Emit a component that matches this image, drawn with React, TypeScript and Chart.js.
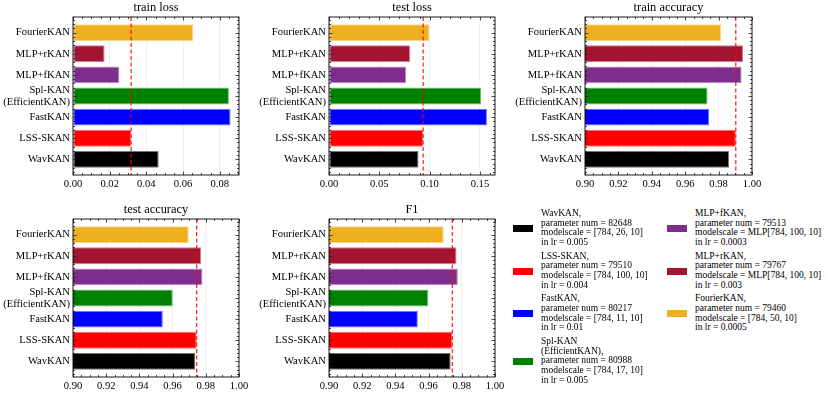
import React, { useEffect, useRef } from 'react';
import { Chart, registerables } from 'chart.js';

Chart.register(...registerables);

// Categories (bottom -> top, as in matplotlib barh)
const categories = ['WavKAN', 'LSS-SKAN', 'FastKAN', 'Spl-KAN\n(EfficientKAN)', 'MLP+fKAN', 'MLP+rKAN', 'FourierKAN'];
const colors = ['#000000', '#FF0000', '#0000FF', '#008000', '#7E2F8E', '#A2142F', '#EDB120'];

const trainLoss = [0.0467, 0.0317, 0.0859, 0.0850, 0.0253, 0.0172, 0.0656];
const testLoss = [0.0890, 0.0936, 0.1570, 0.1511, 0.0767, 0.0807, 0.0999];
const trainAcc = [0.9863, 0.9903, 0.9744, 0.9734, 0.9938, 0.9946, 0.9815];
const testAcc = [0.9737, 0.9745, 0.9541, 0.9601, 0.9780, 0.9772, 0.9697];
const f1Score = [0.9733, 0.9743, 0.9535, 0.9597, 0.9776, 0.9768, 0.9691];

const refModel = 'LSS-SKAN';

// Legend info
const legendNames = ['WavKAN,', 'LSS-SKAN,', 'FastKAN,', 'Spl-KAN\n(EfficientKAN),', 'MLP+fKAN,', 'MLP+rKAN,', 'FourierKAN,'];
const paramNums = [82648, 79510, 80217, 80988, 79513, 79767, 79460];
const modelScales = ['[784, 26, 10]', '[784, 100, 10]', '[784, 11, 10]', '[784, 17, 10]', 'MLP[784, 100, 10]', 'MLP[784, 100, 10]', '[784, 50, 10]'];
const learningRates = ['0.005', '0.004', '0.01', '0.005', '0.0003', '0.003', '0.0005'];
const legendColumns = [[0, 1, 2, 3], [4, 5, 6]];

const FONT = '"Liberation Serif", "Times New Roman", serif';

type Box = { left: number; top: number; width: number; height: number; aL: number; aT: number; aR: number; aB: number };
type PanelCfg = { title: string; values: number[]; min: number; max: number; step: number; minorDiv: number; box: Box };

const panels: PanelCfg[] = [
  { title: 'train loss', values: trainLoss, min: 0, max: 0.0905, step: 0.02, minorDiv: 4,
    box: { left: 0, top: 0, width: 255, height: 195, aL: 73, aT: 17, aR: 239, aB: 175 } },
  { title: 'test loss', values: testLoss, min: 0, max: 0.165, step: 0.05, minorDiv: 5,
    box: { left: 258, top: 0, width: 255, height: 195, aL: 329, aT: 17, aR: 495, aB: 175 } },
  { title: 'train accuracy', values: trainAcc, min: 0.9, max: 1.0, step: 0.02, minorDiv: 4,
    box: { left: 514, top: 0, width: 258, height: 195, aL: 585, aT: 17, aR: 752, aB: 175 } },
  { title: 'test accuracy', values: testAcc, min: 0.9, max: 1.0, step: 0.02, minorDiv: 4,
    box: { left: 0, top: 202, width: 258, height: 193, aL: 73, aT: 219, aR: 239, aB: 377 } },
  { title: 'F1', values: f1Score, min: 0.9, max: 1.0, step: 0.02, minorDiv: 4,
    box: { left: 258, top: 202, width: 258, height: 193, aL: 329, aT: 219, aR: 495, aB: 377 } },
];

const Y_MIN = -0.74;
const Y_MAX = categories.length - 1 + 0.74;

function withAlpha(hex: string, a: number) {
  const r = parseInt(hex.slice(1, 3), 16), g = parseInt(hex.slice(3, 5), 16), b = parseInt(hex.slice(5, 7), 16);
  return `rgba(${r},${g},${b},${a})`;
}

const decorPlugin = {
  id: 'decor',
  afterDatasetsDraw(chart: any, _args: any, o: any) {
    const { ctx, chartArea: a } = chart;
    const x = chart.scales.x, y = chart.scales.y;
    ctx.save();
    // reference dashed line
    const px = x.getPixelForValue(o.ref);
    ctx.strokeStyle = 'rgba(255,0,0,0.9)';
    ctx.lineWidth = 1.2;
    ctx.setLineDash([4, 2.5]);
    ctx.beginPath();
    ctx.moveTo(px, a.top);
    ctx.lineTo(px, a.bottom);
    ctx.stroke();
    ctx.setLineDash([]);

    // ticks (inward, all four sides)
    ctx.strokeStyle = '#222';
    ctx.lineWidth = 0.8;
    ctx.beginPath();
    const majLen = 3.5, minLen = 2;
    const xMinor = o.step / o.minorDiv;
    const k0 = Math.ceil(o.min / xMinor - 1e-6), k1 = Math.floor(o.max / xMinor + 1e-6);
    for (let k = k0; k <= k1; k++) {
      const v = k * xMinor;
      const p = Math.round(x.getPixelForValue(v)) + 0.5;
      const len = k % o.minorDiv === 0 ? majLen : minLen;
      ctx.moveTo(p, a.bottom); ctx.lineTo(p, a.bottom - len);
      ctx.moveTo(p, a.top); ctx.lineTo(p, a.top + len);
    }
    const j0 = Math.ceil(Y_MIN / 0.2 - 1e-6), j1 = Math.floor(Y_MAX / 0.2 + 1e-6);
    for (let j = j0; j <= j1; j++) {
      const v = j * 0.2;
      const p = Math.round(y.getPixelForValue(v)) + 0.5;
      const len = j % 5 === 0 ? majLen : minLen;
      ctx.moveTo(a.left, p); ctx.lineTo(a.left + len, p);
      ctx.moveTo(a.right, p); ctx.lineTo(a.right - len, p);
    }
    ctx.stroke();

    // frame
    ctx.strokeStyle = '#000';
    ctx.lineWidth = 0.9;
    ctx.strokeRect(a.left, a.top, a.right - a.left, a.bottom - a.top);

    // title
    ctx.fillStyle = '#000';
    ctx.font = `12.4px ${FONT}`;
    ctx.textAlign = 'center';
    ctx.textBaseline = 'middle';
    ctx.fillText(o.title, (a.left + a.right) / 2, a.top - 9);
    ctx.restore();
  },
};

function Panel({ cfg }: { cfg: PanelCfg }) {
  const ref = useRef<HTMLCanvasElement | null>(null);
  useEffect(() => {
    const canvas = ref.current;
    if (!canvas) return;
    const b = cfg.box;
    const refValue = cfg.values[categories.indexOf(refModel)];
    const chart = new Chart(canvas, {
      type: 'bar',
      data: {
        datasets: [{
          data: cfg.values.map((v, i) => ({ x: v, y: i })),
          backgroundColor: colors,
          borderColor: colors.map((c) => withAlpha(c, 0.55)),
          borderWidth: 1,
          borderSkipped: false,
          categoryPercentage: 0.8,
          barPercentage: 1.0,
        }],
      },
      options: {
        indexAxis: 'y',
        responsive: false,
        animation: false,
        events: [],
        layout: { padding: { left: 0, top: b.aT - b.top, right: b.left + b.width - b.aR, bottom: 0 } },
        plugins: {
          legend: { display: false },
          tooltip: { enabled: false },
          title: { display: false },
          decor: { ref: refValue, title: cfg.title, min: cfg.min, max: cfg.max, step: cfg.step, minorDiv: cfg.minorDiv },
        } as any,
        scales: {
          x: {
            type: 'linear',
            min: cfg.min,
            max: cfg.max,
            grid: { display: true, color: 'rgba(0,0,0,0.07)', lineWidth: 0.8, drawTicks: false },
            border: { display: false },
            ticks: {
              stepSize: cfg.step,
              includeBounds: false,
              padding: 3,
              color: '#000',
              font: { family: FONT, size: 10.6 },
              maxRotation: 0,
              callback: (v: any) => Number(v).toFixed(2),
            },
            afterFit: (s: any) => { s.height = b.top + b.height - b.aB; },
          },
          y: {
            type: 'linear',
            min: Y_MIN,
            max: Y_MAX,
            offset: false,
            grid: { display: false, drawTicks: false },
            border: { display: false },
            afterBuildTicks: (s: any) => { s.ticks = categories.map((_, i) => ({ value: i })); },
            ticks: {
              padding: 3,
              color: '#000',
              font: { family: FONT, size: 10.6, lineHeight: 1.13 },
              autoSkip: false,
              callback: (v: any) => {
                const c = categories[Math.round(Number(v))];
                return c ? c.split('\n') : '';
              },
            },
            afterFit: (s: any) => { s.width = b.aL - b.left; },
          },
        },
      },
      plugins: [decorPlugin as any],
    });
    return () => chart.destroy();
  }, [cfg]);
  const b = cfg.box;
  return (
    <canvas
      ref={ref}
      width={b.width}
      height={b.height}
      style={{ position: 'absolute', left: b.left, top: b.top, width: b.width, height: b.height }}
    />
  );
}

function Legend() {
  const colLeft = [513, 667];
  return (
    <>
      {legendColumns.map((col, ci) => (
        <div key={ci} style={{ position: 'absolute', left: colLeft[ci], top: 209, display: 'flex', flexDirection: 'column', gap: 4 }}>
          {col.map((i) => {
            const lines = [
              ...legendNames[i].split('\n'),
              `parameter num = ${paramNums[i]}`,
              `modelscale = ${modelScales[i]}`,
              `in lr = ${learningRates[i]}`,
            ];
            return (
              <div key={i} style={{ display: 'flex', alignItems: 'center' }}>
                <div style={{ width: 20, height: 7, boxSizing: 'border-box', background: colors[i], border: `1px solid ${withAlpha(colors[i], 0.55)}`, marginRight: 8, flex: 'none' }} />
                <div style={{ fontFamily: FONT, fontSize: 9.5, lineHeight: '9.67px', color: '#000', whiteSpace: 'pre' }}>
                  {lines.map((l, k) => <div key={k}>{l}</div>)}
                </div>
              </div>
            );
          })}
        </div>
      ))}
    </>
  );
}

export default function App() {
  return (
    <div style={{ position: 'absolute', left: 0, top: 0, width: 830, height: 395, background: '#fff', overflow: 'hidden' }}>
      {panels.map((p, i) => <Panel key={i} cfg={p} />)}
      <Legend />
    </div>
  );
}
